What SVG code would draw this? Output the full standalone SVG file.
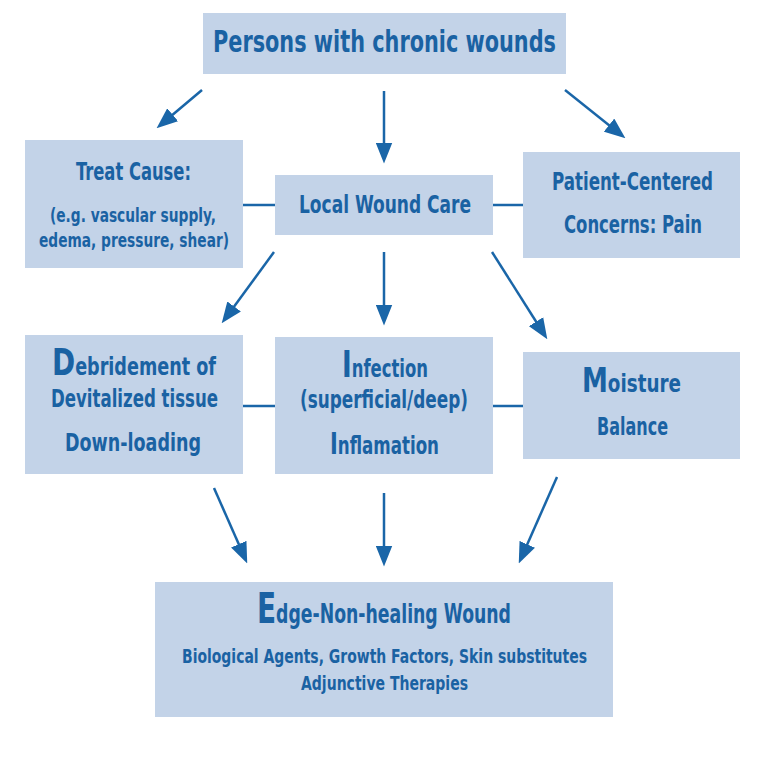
<svg xmlns="http://www.w3.org/2000/svg" width="768" height="770" viewBox="0 0 768 770">
<defs>
<style>
.box{fill:#c3d3e8;}
.t{font-family:"Liberation Sans Narrow","DejaVu Sans Condensed","Liberation Sans",sans-serif;fill:#1a62a3;font-weight:bold;}
.c{stroke:#1a66a8;stroke-width:2.5;fill:none;}
.a{stroke:#1a66a8;stroke-width:2.5;fill:none;marker-end:url(#ah);}
</style>
<marker id="ah" viewBox="0 0 20 16" markerWidth="21" markerHeight="17" refX="10" refY="8" orient="auto" markerUnits="userSpaceOnUse">
<path d="M0,0 L20,8 L0,16 Z" fill="#1a66a8"/>
</marker>
</defs>
<rect width="768" height="770" fill="#ffffff"/>
<g id="connectors">
<line class="a" x1="202" y1="90" x2="164.6" y2="121.5"/>
<line class="a" x1="384" y1="91" x2="384" y2="153"/>
<line class="a" x1="565" y1="90" x2="617.2" y2="131.7"/>
<line class="a" x1="274" y1="252" x2="227.9" y2="314.9"/>
<line class="a" x1="384" y1="252" x2="384" y2="315"/>
<line class="a" x1="492" y1="252" x2="541.7" y2="330.5"/>
<line class="a" x1="214" y1="488" x2="243" y2="553.8"/>
<line class="a" x1="384" y1="493" x2="384" y2="556"/>
<line class="a" x1="557" y1="477" x2="523" y2="553.9"/>
<line class="c" x1="243" y1="205" x2="275" y2="205"/>
<line class="c" x1="493" y1="205" x2="523" y2="205"/>
<line class="c" x1="243" y1="406" x2="275" y2="406"/>
<line class="c" x1="493" y1="406" x2="523" y2="406"/>
</g>
<g id="persons">
<rect class="box" x="203" y="13" width="363" height="61"/>
<text class="t" x="213" y="52" font-size="31" textLength="343" lengthAdjust="spacingAndGlyphs">Persons with chronic wounds</text>
</g>
<g id="treat-cause">
<rect class="box" x="25" y="140" width="218" height="128"/>
<text class="t" x="76" y="180" font-size="24" textLength="115" lengthAdjust="spacingAndGlyphs">Treat Cause:</text>
<text class="t" x="50" y="222" font-size="20" textLength="166" lengthAdjust="spacingAndGlyphs">(e.g. vascular supply,</text>
<text class="t" x="39" y="247" font-size="20" textLength="190" lengthAdjust="spacingAndGlyphs">edema, pressure, shear)</text>
</g>
<g id="local-wound-care">
<rect class="box" x="275" y="175" width="218" height="60"/>
<text class="t" x="299" y="213" font-size="24" textLength="172" lengthAdjust="spacingAndGlyphs">Local Wound Care</text>
</g>
<g id="patient-centered">
<rect class="box" x="523" y="152" width="217" height="106"/>
<text class="t" x="552" y="190" font-size="24" textLength="161" lengthAdjust="spacingAndGlyphs">Patient-Centered</text>
<text class="t" x="564" y="233" font-size="24" textLength="138" lengthAdjust="spacingAndGlyphs">Concerns: Pain</text>
</g>
<g id="debridement">
<rect class="box" x="25" y="335" width="218" height="139"/>
<text class="t" x="52" y="375" textLength="164" lengthAdjust="spacingAndGlyphs"><tspan font-size="38">D</tspan><tspan font-size="24">ebridement of</tspan></text>
<text class="t" x="51" y="407" font-size="24" textLength="167" lengthAdjust="spacingAndGlyphs">Devitalized tissue</text>
<text class="t" x="65" y="451" font-size="24" textLength="136" lengthAdjust="spacingAndGlyphs">Down-loading</text>
</g>
<g id="infection">
<rect class="box" x="275" y="337" width="218" height="137"/>
<text class="t" x="342" y="377" textLength="86" lengthAdjust="spacingAndGlyphs"><tspan font-size="38">I</tspan><tspan font-size="24">nfection</tspan></text>
<text class="t" x="300" y="408" font-size="24" textLength="168" lengthAdjust="spacingAndGlyphs">(superficial/deep)</text>
<text class="t" x="330" y="454" textLength="109" lengthAdjust="spacingAndGlyphs"><tspan font-size="30">I</tspan><tspan font-size="24">nflamation</tspan></text>
</g>
<g id="moisture">
<rect class="box" x="523" y="352" width="217" height="107"/>
<text class="t" x="582" y="392" textLength="99" lengthAdjust="spacingAndGlyphs"><tspan font-size="34">M</tspan><tspan font-size="24">oisture</tspan></text>
<text class="t" x="597" y="435" font-size="24" textLength="71" lengthAdjust="spacingAndGlyphs">Balance</text>
</g>
<g id="edge">
<rect class="box" x="155" y="582" width="458" height="135"/>
<text class="t" x="257" y="623" textLength="254" lengthAdjust="spacingAndGlyphs"><tspan font-size="42">E</tspan><tspan font-size="26">dge-Non-healing Wound</tspan></text>
<text class="t" x="182" y="663" font-size="19" textLength="405" lengthAdjust="spacingAndGlyphs">Biological Agents, Growth Factors, Skin substitutes</text>
<text class="t" x="301" y="690" font-size="19" textLength="167" lengthAdjust="spacingAndGlyphs">Adjunctive Therapies</text>
</g>
</svg>
